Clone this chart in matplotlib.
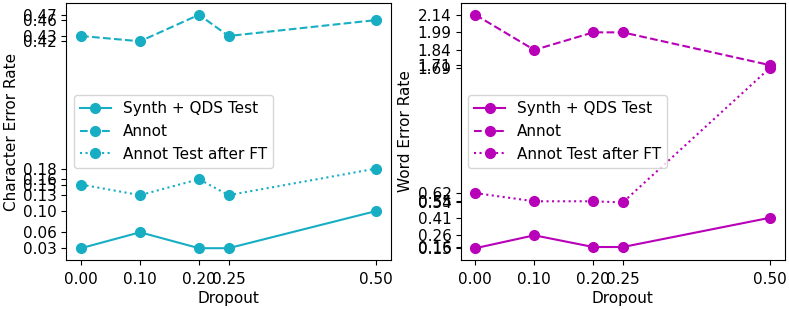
import matplotlib.pyplot as plt

dropout = [0.0, 0.1, 0.2, 0.25, 0.5]

cer_synth = [0.03, 0.06, 0.03, 0.03, 0.10]
cer_annot = [0.43, 0.42, 0.47, 0.43, 0.46]
cer_annot_ft = [0.15, 0.13, 0.16, 0.13, 0.18]

wer_synth = [0.15, 0.26, 0.16, 0.16, 0.41]
wer_annot = [2.14, 1.84, 1.99, 1.99, 1.71]
wer_annot_ft = [0.62, 0.55, 0.55, 0.54, 1.69]

labels = ["Synth + QDS Test", "Annot", "Annot Test after FT"]
styles = ["-", "--", ":"]

plt.rcParams["font.size"] = 11

fig, (ax1, ax2) = plt.subplots(1, 2, figsize=(7.89, 3.09), dpi=100)
fig.subplots_adjust(left=0.084, right=0.995, top=0.99, bottom=0.159, wspace=0.215)


def draw(ax, series, color, ylabel):
    ticks = set()
    for vals, ls, lab in zip(series, styles, labels):
        ax.plot(dropout, vals, linestyle=ls, marker="o", color=color,
                markersize=7, linewidth=1.5, label=lab)
        ticks.update(vals)
    ax.set_xticks(dropout)
    ax.set_xticklabels([f"{d:.2f}" for d in dropout])
    ax.set_yticks(sorted(ticks))
    ax.set_yticklabels([f"{t:.2f}" for t in sorted(ticks)])
    ax.tick_params(axis="x", length=3.5, pad=5)
    ax.tick_params(axis="y", length=3.5, pad=3)
    ax.set_xlabel("Dropout", labelpad=3)
    ax.set_ylabel(ylabel, labelpad=3)
    ax.legend(loc="center left")


draw(ax1, [cer_synth, cer_annot, cer_annot_ft], "#17aec4", "Character Error Rate")
draw(ax2, [wer_synth, wer_annot, wer_annot_ft], "#b800b8", "Word Error Rate")

plt.savefig("out.png", dpi=100)
